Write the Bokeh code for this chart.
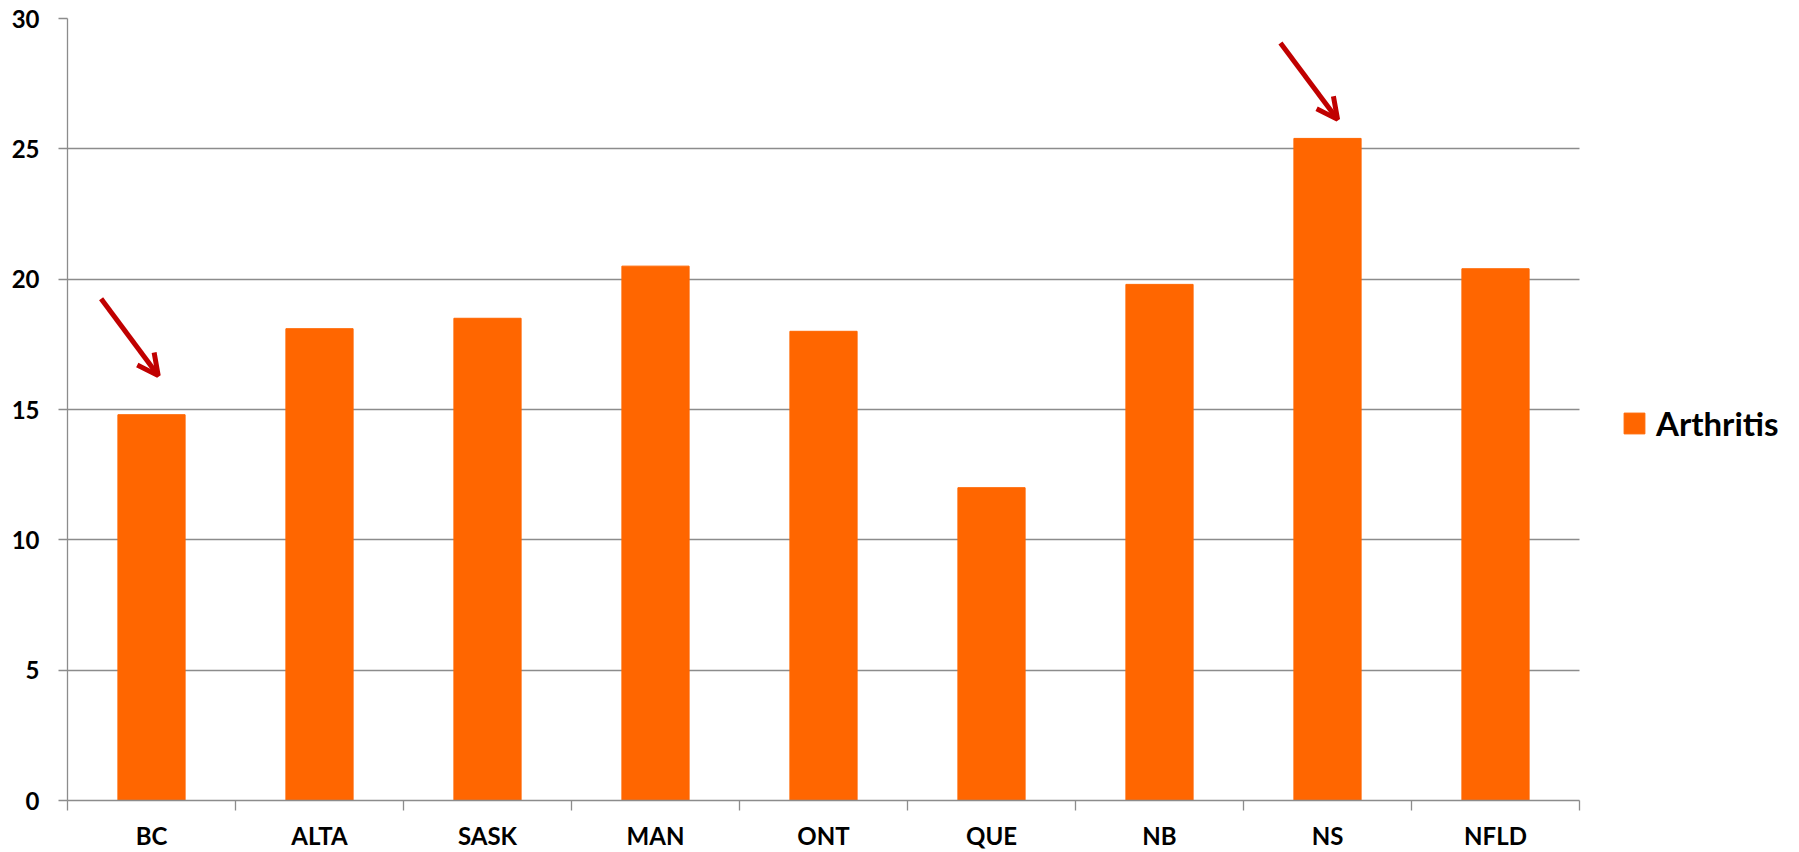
from bokeh.plotting import figure
from bokeh.models import (Range1d, LinearAxis, FixedTicker, Arrow, Grid,
                          OpenHead, Legend, LegendItem, ColumnDataSource)
from bokeh.embed import file_html
from bokeh.resources import INLINE

# ---- data ----
categories = ["BC", "ALTA", "SASK", "MAN", "ONT", "QUE", "NB", "NS", "NFLD"]
arthritis = [14.8, 18.1, 18.5, 20.5, 18.0, 12.0, 19.8, 25.4, 20.4]
y_ticks = [0, 5, 10, 15, 20, 25, 30]
series_name = "Arthritis"

# arrow annotations (category-index units, value units)
arrow_x_start = [0.20, 7.22]
arrow_y_start = [19.25, 29.06]
arrow_x_end = [0.54, 7.56]
arrow_y_end = [16.3, 26.13]

GRAY = "#8C8C8C"
ORANGE = "#FF6600"
FONT = "Lato"

n = len(categories)
centres = [i + 0.5 for i in range(n)]          # category slot centres
bounds = list(range(n + 1))                     # category slot boundaries
src = ColumnDataSource(data=dict(x=centres, top=arthritis, cat=categories))

# plot area: category slots occupy 1512 px; frame continues to the right edge
# so that the legend can sit beside the chart
FRAME_W = 1799 - 67
x_end = n * FRAME_W / 1512

p = figure(x_range=Range1d(0, x_end), y_range=Range1d(0, 30),
           width=1799, height=852, output_backend="svg", toolbar_location=None,
           x_axis_location=None, y_axis_location="left",
           min_border_left=67, min_border_top=18, min_border_right=0,
           min_border_bottom=0)
p.outline_line_color = None
p.background_fill_color = "white"
p.xgrid.visible = False

# y axis
yax = p.yaxis[0]
yax.ticker = FixedTicker(ticks=y_ticks)
yax.major_tick_out = 9
yax.major_tick_in = 0
yax.minor_tick_out = 0
yax.minor_tick_in = 0
yax.axis_line_color = GRAY
yax.axis_line_width = 1.3
yax.major_tick_line_color = GRAY
yax.major_tick_line_width = 1.3
yax.major_label_text_font = FONT
yax.major_label_text_font_style = "bold"
yax.major_label_text_font_size = "24px"
yax.major_label_text_color = "black"
yax.major_label_standoff = 19

# horizontal grid limited to the category area
if "cross_bounds" in Grid.properties():
    p.ygrid.ticker = FixedTicker(ticks=y_ticks)
    p.ygrid.grid_line_color = GRAY
    p.ygrid.grid_line_width = 1.3
    p.ygrid.cross_bounds = (0, n)
else:
    p.ygrid.visible = False
    p.segment(x0=[0] * len(y_ticks), x1=[n] * len(y_ticks), y0=y_ticks, y1=y_ticks,
              line_color=GRAY, line_width=1.3)

# x axis: labels at category centres, tick marks at category boundaries
xax = LinearAxis(ticker=FixedTicker(ticks=centres, minor_ticks=bounds),
                 major_label_overrides={c: lab for c, lab in zip(centres, categories)},
                 bounds=(0, n))
xax.major_tick_out = 0
xax.major_tick_in = 0
xax.minor_tick_out = 10
xax.minor_tick_in = 0
xax.minor_tick_line_color = GRAY
xax.minor_tick_line_width = 1.3
xax.axis_line_color = GRAY
xax.axis_line_width = 1.3
xax.major_label_text_font = FONT
xax.major_label_text_font_style = "bold"
xax.major_label_text_font_size = "24px"
xax.major_label_text_color = "black"
xax.major_label_standoff = 10
p.add_layout(xax, "below")

bars = p.vbar(x="x", top="top", width=0.4, color=ORANGE, source=src)

for xs, ys, xe, ye in zip(arrow_x_start, arrow_y_start, arrow_x_end, arrow_y_end):
    p.add_layout(Arrow(x_start=xs, y_start=ys, x_end=xe, y_end=ye,
                       line_color="#C00000", line_width=5,
                       end=OpenHead(size=21, line_color="#C00000", line_width=5)))

legend = Legend(items=[LegendItem(label=series_name, renderers=[bars])],
                location=(1554, 357), glyph_width=26, glyph_height=26,
                label_height=26, label_standoff=9,
                padding=0, spacing=0, margin=0,
                border_line_color=None, background_fill_alpha=0,
                label_text_font=FONT, label_text_font_style="bold",
                label_text_font_size="33px", label_text_color="black")
p.add_layout(legend, "center")

open("out.html", "w").write(file_html(p, INLINE))
